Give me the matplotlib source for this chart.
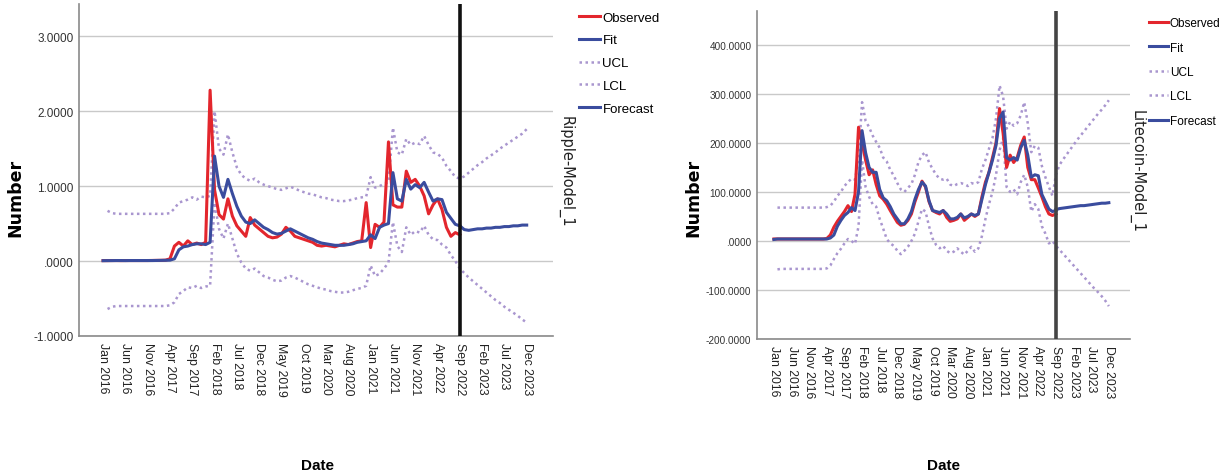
import numpy as np
import matplotlib.pyplot as plt
from matplotlib.ticker import FuncFormatter

# month index 0 = Jan 2016, forecast period starts at Sep 2022 (index 80)
tick_labels = ['Jan 2016', 'Jun 2016', 'Nov 2016', 'Apr 2017', 'Sep 2017',
               'Feb 2018', 'Jul 2018', 'Dec 2018', 'May 2019', 'Oct 2019',
               'Mar 2020', 'Aug 2020', 'Jan 2021', 'Jun 2021', 'Nov 2021',
               'Apr 2022', 'Sep 2022', 'Feb 2023', 'Jul 2023', 'Dec 2023']
forecast_start = 80

# Ripple
xrp_observed = [
    0.006, 0.006, 0.007, 0.007, 0.006, 0.007, 0.007, 0.007, 0.007, 0.007,
    0.007, 0.008, 0.009, 0.010, 0.012, 0.030, 0.200, 0.250, 0.200, 0.270,
    0.220, 0.240, 0.220, 0.250, 2.280, 0.950, 0.620, 0.560, 0.830, 0.600,
    0.470, 0.400, 0.330, 0.580, 0.480, 0.430, 0.380, 0.330, 0.310, 0.320,
    0.360, 0.450, 0.400, 0.330, 0.310, 0.290, 0.270, 0.250, 0.210, 0.200,
    0.210, 0.200, 0.190, 0.210, 0.230, 0.220, 0.240, 0.260, 0.270, 0.780,
    0.180, 0.490, 0.450, 0.520, 1.590, 0.750, 0.720, 0.720, 1.200, 1.050,
    1.090, 1.000, 0.870, 0.630, 0.750, 0.830, 0.690, 0.450, 0.330, 0.380,
    0.350]
xrp_fit = [
    0.005, 0.006, 0.006, 0.007, 0.007, 0.006, 0.007, 0.007, 0.007, 0.007,
    0.007, 0.007, 0.008, 0.009, 0.010, 0.012, 0.030, 0.150, 0.190, 0.200,
    0.220, 0.230, 0.230, 0.220, 0.250, 1.400, 1.000, 0.850, 1.090, 0.900,
    0.730, 0.600, 0.520, 0.500, 0.550, 0.500, 0.450, 0.420, 0.380, 0.360,
    0.370, 0.400, 0.430, 0.400, 0.370, 0.340, 0.310, 0.290, 0.260, 0.240,
    0.230, 0.220, 0.210, 0.210, 0.210, 0.220, 0.230, 0.250, 0.260, 0.270,
    0.350, 0.300, 0.450, 0.480, 0.500, 1.180, 0.830, 0.800, 1.090, 0.960,
    1.020, 0.980, 1.050, 0.920, 0.800, 0.830, 0.820, 0.650, 0.570, 0.490,
    0.470]
xrp_forecast = [0.470, 0.420, 0.410, 0.420, 0.430, 0.430, 0.440, 0.440,
                0.450, 0.450, 0.460, 0.460, 0.470, 0.470, 0.480, 0.480]
# confidence limits start at Feb 2016 (index 1)
xrp_ucl = [
    0.670, 0.640, 0.630, 0.630, 0.630, 0.630, 0.630, 0.630, 0.630, 0.630,
    0.630, 0.630, 0.630, 0.630, 0.640, 0.700, 0.780, 0.800, 0.820, 0.850,
    0.820, 0.860, 0.850, 0.870, 2.000, 1.500, 1.420, 1.690, 1.450, 1.250,
    1.150, 1.100, 1.070, 1.100, 1.050, 1.020, 1.000, 0.980, 0.960, 0.950,
    0.970, 0.990, 0.970, 0.940, 0.920, 0.900, 0.890, 0.870, 0.850, 0.840,
    0.820, 0.810, 0.800, 0.800, 0.810, 0.820, 0.840, 0.850, 0.860, 1.120,
    0.980, 1.000, 1.030, 1.050, 1.780, 1.450, 1.420, 1.630, 1.550, 1.580,
    1.560, 1.670, 1.550, 1.450, 1.430, 1.380, 1.270, 1.200, 1.120, 1.100,
    1.130, 1.180, 1.230, 1.280, 1.320, 1.370, 1.410, 1.450, 1.500, 1.540,
    1.580, 1.620, 1.660, 1.700, 1.760]
xrp_lcl = [
    -0.640, -0.610, -0.600, -0.600, -0.600, -0.600, -0.600, -0.600, -0.600, -0.600,
    -0.600, -0.600, -0.600, -0.600, -0.590, -0.550, -0.440, -0.400, -0.350, -0.360,
    -0.330, -0.360, -0.340, -0.330, 0.780, 0.430, 0.300, 0.500, 0.300, 0.100,
    -0.020, -0.100, -0.130, -0.100, -0.150, -0.200, -0.220, -0.250, -0.270, -0.260,
    -0.220, -0.200, -0.220, -0.250, -0.280, -0.310, -0.330, -0.350, -0.370, -0.380,
    -0.400, -0.410, -0.420, -0.420, -0.410, -0.390, -0.370, -0.360, -0.330, -0.060,
    -0.200, -0.170, -0.100, -0.020, 0.520, 0.200, 0.120, 0.450, 0.350, 0.400,
    0.380, 0.470, 0.350, 0.290, 0.280, 0.220, 0.180, 0.080, 0.000, -0.100,
    -0.160, -0.220, -0.270, -0.320, -0.370, -0.420, -0.470, -0.520, -0.560, -0.610,
    -0.650, -0.690, -0.730, -0.780, -0.820]

# Litecoin
ltc_observed = [
    4, 4, 4, 4, 4, 4, 4, 4, 4, 4,
    4, 4, 4, 4, 4, 5, 12, 28, 40, 50,
    60, 72, 60, 95, 232, 200, 165, 135, 145, 115,
    92, 85, 75, 62, 50, 38, 32, 34, 42, 55,
    80, 100, 122, 110, 80, 62, 58, 55, 62, 48,
    40, 42, 45, 55, 42, 48, 55, 50, 55, 90,
    120, 140, 170, 200, 270, 220, 150, 175, 160, 170,
    195, 212, 150, 125, 125, 108, 90, 70, 55, 52,
    55]
ltc_fit = [
    3, 4, 4, 4, 4, 4, 4, 4, 4, 4,
    4, 4, 4, 4, 4, 4, 6, 12, 30, 42,
    52, 58, 68, 62, 100, 225, 180, 150, 140, 140,
    105, 88, 82, 70, 55, 45, 35, 35, 45, 60,
    85, 105, 120, 112, 82, 62, 60, 58, 62, 55,
    45, 45, 48, 55, 47, 50, 55, 52, 55, 85,
    115, 140, 165, 195, 250, 263, 170, 165, 170, 165,
    190, 205, 175, 130, 135, 133, 95, 80, 65, 60,
    62]
ltc_forecast = [64, 66, 67, 68, 69, 70, 71, 72, 72, 73, 74, 75, 76, 77, 77, 78]
ltc_ucl = [
    68, 68, 68, 68, 68, 68, 68, 68, 68, 68,
    68, 68, 68, 68, 69, 72, 80, 92, 100, 112,
    120, 127, 125, 165, 283, 245, 232, 215, 202, 190,
    170, 162, 145, 133, 118, 105, 100, 108, 116, 135,
    161, 175, 181, 160, 147, 135, 127, 125, 127, 115,
    112, 116, 118, 116, 112, 118, 116, 120, 147, 165,
    188, 210, 250, 317, 295, 229, 243, 235, 240, 256,
    283, 240, 181, 194, 190, 153, 130, 110, 92, 135,
    155, 166, 176, 186, 196, 206, 215, 224, 233, 242,
    251, 260, 268, 277, 287]
ltc_lcl = [
    -58, -57, -57, -57, -57, -57, -57, -57, -57, -57,
    -57, -57, -57, -57, -56, -50, -37, -25, -16, -5,
    4, 0, -6, 30, 165, 110, 90, 75, 70, 45,
    25, 4, -5, -10, -20, -27, -20, -12, 0, 15,
    40, 65, 60, 30, 5, -8, -15, -10, -20, -25,
    -22, -15, -22, -28, -20, -12, -22, -15, 10, 45,
    75, 100, 135, 185, 210, 110, 100, 105, 95, 120,
    135, 110, 60, 75, 65, 30, 15, -5, 0, -10,
    -18, -26, -34, -42, -50, -58, -66, -74, -82, -90,
    -98, -105, -113, -122, -133]

RED = '#e3262d'
BLUE = '#3a4c9e'
LAV = '#a996cf'
ARIAL = ['Liberation Sans', 'DejaVu Sans']


def spss_fmt(v, pos=None):
    s = f"{v:.4f}"
    if s.startswith('0.'):
        s = s[1:]
    elif s.startswith('-0.'):
        s = '-' + s[2:]
    return s


def draw_panel(ax, obs, fit, fc, ucl, lcl, ylim, yticks, xlim,
               vline_color, ytick_size, xtick_size):
    t_obs = np.arange(len(obs))
    t_band = np.arange(1, 1 + len(ucl))
    t_fc = np.arange(forecast_start, forecast_start + len(fc))
    dots = (0, (1, 1.4))

    ax.plot(t_obs, obs, color=RED, lw=2.2, label='Observed', zorder=3)
    ax.plot(t_obs, fit, color=BLUE, lw=2.2, label='Fit', zorder=4)
    ax.plot(t_band, ucl, color=LAV, lw=1.8, ls=dots, label='UCL', zorder=2)
    ax.plot(t_band, lcl, color=LAV, lw=1.8, ls=dots, label='LCL', zorder=2)
    ax.plot(t_fc, fc, color=BLUE, lw=2.2, label='Forecast', zorder=4)
    ax.axvline(forecast_start, color=vline_color, lw=2.6, zorder=5)

    ax.set_xlim(*xlim)
    ax.set_ylim(*ylim)
    ax.set_yticks(yticks)
    ax.yaxis.set_major_formatter(FuncFormatter(spss_fmt))
    ax.set_xticks(np.arange(0, 96, 5))
    ax.set_xticklabels(tick_labels, rotation=270, fontsize=xtick_size,
                       color='#222222', family=ARIAL)
    for lab in ax.get_yticklabels():
        lab.set_fontfamily(ARIAL)
        lab.set_fontsize(ytick_size)
        lab.set_color('#333333')
    ax.tick_params(length=0, pad=4)
    ax.grid(axis='y', color='#c9c9c9', lw=1.0)
    ax.set_axisbelow(True)
    for side in ('top', 'right'):
        ax.spines[side].set_visible(False)
    for side in ('left', 'bottom'):
        ax.spines[side].set_color('#8a8a8a')
        ax.spines[side].set_linewidth(1.2)


fig = plt.figure(figsize=(12.25, 4.77), dpi=100)
W, H = 1225, 477

ax1 = fig.add_axes([79 / W, 1 - 337 / H, (553 - 79) / W, (337 - 5) / H])
draw_panel(ax1, xrp_observed, xrp_fit, xrp_forecast, xrp_ucl, xrp_lcl,
           ylim=(-1, 3.43), yticks=[-1, 0, 1, 2, 3], xlim=(-5.4, 100.9),
           vline_color='#111111', ytick_size=8.5, xtick_size=8.8)

ax2 = fig.add_axes([757 / W, 1 - 340 / H, (1130 - 757) / W, (340 - 12) / H])
draw_panel(ax2, ltc_observed, ltc_fit, ltc_forecast, ltc_ucl, ltc_lcl,
           ylim=(-200, 469), yticks=[-200, -100, 0, 100, 200, 300, 400],
           xlim=(-4.8, 101), vline_color='#444444', ytick_size=7.2,
           xtick_size=8.8)

# legend position (px), font size, row spacing, model label x, label x's
panels = [(ax1, 578, 11, 9.5, 0.8, 566, 'Ripple-Model_1', 15, 318),
          (ax2, 1148, 17, 8.5, 1.05, 1137, 'Litecoin-Model_1', 693, 943)]
for ax, lx, ly, lsize, lspace, mx, model, nx, dx in panels:
    ax.legend(loc='upper left', bbox_to_anchor=(lx / W, 1 - ly / H),
              bbox_transform=fig.transFigure, frameon=False,
              prop={'family': ARIAL, 'size': lsize}, handlelength=1.6,
              handletextpad=0.15, labelspacing=lspace, borderaxespad=0,
              borderpad=0.1)
    fig.text(mx / W, 1 - 172 / H, model, rotation=270,
             ha='center', va='center', fontsize=10.5, color='#222222')
    fig.text(nx / W, 1 - 198 / H, 'Number', rotation=90, ha='center',
             va='center', fontsize=12.5, fontweight='bold')
    fig.text(dx / W, 1 - 466 / H, 'Date', ha='center', va='center',
             fontsize=11, fontweight='bold', family=ARIAL)

fig.savefig('out.png', dpi=100)
